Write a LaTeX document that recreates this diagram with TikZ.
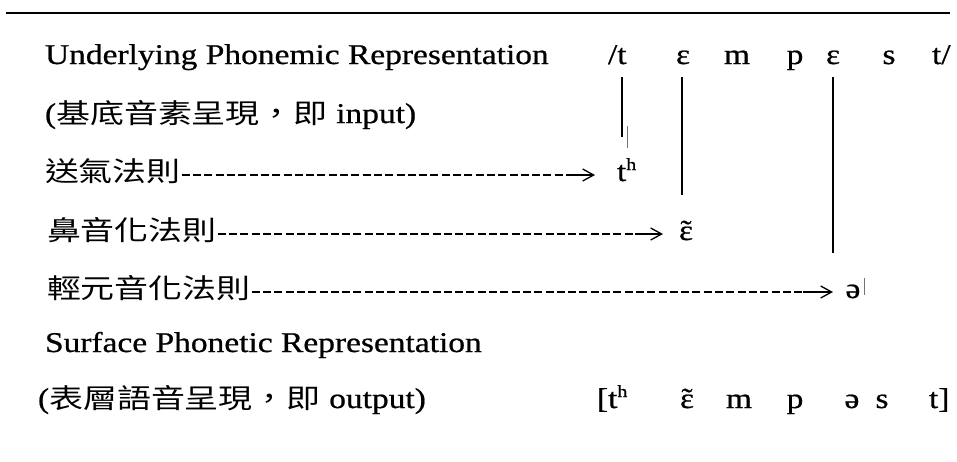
\documentclass[tikz,border=0pt]{standalone}
\usepackage{fontspec}
\setmainfont{Liberation Serif}[FakeStretch=1.17,FakeBold=0.7]
\newfontfamily\cjk{Noto Sans CJK TC}[FakeStretch=1.25,Scale=0.95]
\usetikzlibrary{arrows.meta}
\newcommand{\asp}{\raisebox{11pt}{\fontsize{17}{17}\selectfont h}}
\newcommand{\nas}{\ooalign{ɛ\cr\hidewidth˜\hidewidth\cr}}
\tikzset{
  txt/.style={inner sep=0pt, outer sep=0pt, font=\fontsize{28.6}{30}\selectfont},
  lbl/.style={txt, anchor=base west},
  ph/.style={txt, anchor=base},
  vln/.style={line width=2pt},
  toprule/.style={line width=2.5pt},
  dashln/.style={line width=1.8pt, dash pattern=on 8pt off 3.3pt},
  arr/.style={line width=1.3pt, -{Straight Barb[length=11pt,width=12pt,line width=1.3pt]}},
  faint/.style={line width=0.6pt, black!55},
}
\begin{document}
\begin{tikzpicture}[x=1pt,y=-1pt]
\useasboundingbox (0,0) rectangle (957,461);
% top rule
\coordinate (ra) at (6,13);
\coordinate (rb) at (950,13);
\draw[toprule] (ra) -- (rb);
% row 1
\node[lbl] (r1) at (45,64) {Underlying Phonemic Representation};
\node[lbl] (u1) at (608,64) {/t};
\node[ph] (u2) at (683,64) {ɛ};
\node[ph] (u3) at (737,64) {m};
\node[ph] (u4) at (795,64) {p};
\node[ph] (u5) at (833,64) {ɛ};
\node[ph] (u6) at (889,64) {s};
\node[lbl] (u7) at (932,64) {t/};
% row 2
\node[lbl] (r2) at (45,123) {({\cjk 基底音素呈現，即} input)};
% row 3
\node[lbl] (r3) at (45,181) {\cjk 送氣法則};
\node[lbl] (o3) at (617,181) {t\asp};
% row 4
\node[lbl] (r4) at (47,240) {\cjk 鼻音化法則};
\node[ph] (o4) at (686,240) {\nas};
% row 5
\node[lbl] (r5) at (47,298) {\cjk 輕元音化法則};
\node[ph] (o5) at (853,298) {ə};
% row 6, 7
\node[lbl] (r6) at (45,352) {Surface Phonetic Representation};
\node[lbl] (r7) at (38,408) {({\cjk 表層語音呈現，即} output)};
\node[lbl] (s1) at (597,408) {[t\asp};
\node[ph] (s2) at (687,408) {\nas};
\node[ph] (s3) at (739,408) {m};
\node[ph] (s4) at (795,408) {p};
\node[ph] (s5) at (852,408) {ə};
\node[ph] (s6) at (882,408) {s};
\node[lbl] (s7) at (929,408) {t]};
% vertical lines
\coordinate (v1a) at (622,77);  \coordinate (v1b) at (622,137);
\coordinate (v2a) at (682,77);  \coordinate (v2b) at (682,195);
\coordinate (v3a) at (833,77);  \coordinate (v3b) at (833,253);
\draw[vln] (v1a) -- (v1b);
\draw[vln] (v2a) -- (v2b);
\draw[vln] (v3a) -- (v3b);
\coordinate (f1a) at (627,126); \coordinate (f1b) at (627,148);
\coordinate (f2a) at (864,278); \coordinate (f2b) at (864,295);
\draw[faint] (f1a) -- (f1b);
\draw[faint] (f2a) -- (f2b);
% rule arrows
\coordinate (s3a) at ([xshift=1pt,yshift=6pt]r3.base east);
\coordinate (d3) at (567,175); \coordinate (k3) at (595,175);
\draw[dashln] (s3a) -- (d3);
\draw[arr] (d3) -- (k3);
\coordinate (s4a) at ([xshift=1pt,yshift=6pt]r4.base east);
\coordinate (d4) at (635,234); \coordinate (k4) at (663,234);
\draw[dashln] (s4a) -- (d4);
\draw[arr] (d4) -- (k4);
\coordinate (s5a) at ([xshift=1pt,yshift=6pt]r5.base east);
\coordinate (d5) at (803,292); \coordinate (k5) at (833,292);
\draw[dashln] (s5a) -- (d5);
\draw[arr] (d5) -- (k5);
\end{tikzpicture}
\end{document}
